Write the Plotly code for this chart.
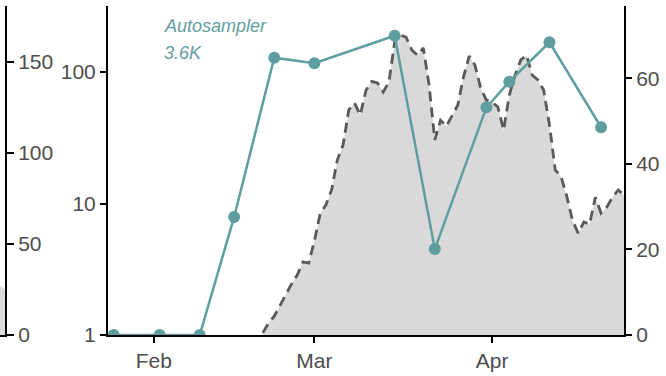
import pandas as pd
import plotly.graph_objects as go

# Autosampler weekly results (log scale, left axis)
sample_dates = ["2021-01-25", "2021-02-02", "2021-02-09", "2021-02-15", "2021-02-22",
                "2021-03-01", "2021-03-15", "2021-03-22", "2021-03-31", "2021-04-04",
                "2021-04-11", "2021-04-20"]
sample_values = [1, 1, 1, 7.9, 128.5, 116.5, 188.8, 4.5, 53.9, 84.4, 168.3, 38.0]

# Daily case curve (linear, right axis), starting 2021-02-20
case_start = "2021-02-20"
case_values = [0.5, 2.8, 4.4, 7.0, 9.6, 11.9, 14.0, 17.1, 16.8, 22.0,
               28.3, 30.4, 33.9, 40.9, 44.4, 52.6, 54.2, 51.4, 57.2, 59.3,
               58.9, 56.8, 59.1, 68.5, 70.1, 69.6, 66.6, 65.4, 67.1, 58.4,
               45.6, 50.2, 48.8, 51.4, 53.7, 60.3, 65.2, 63.1, 57.7, 54.9,
               54.4, 53.3, 47.9, 56.1, 60.7, 64.3, 65.4, 60.7, 59.6, 57.2,
               49.1, 38.6, 37.1, 32.5, 26.9, 23.8, 26.4, 25.9, 32.2, 28.5,
               29.9, 32.2, 33.9, 32.7]
case_dates = pd.date_range(case_start, periods=len(case_values), freq="D")

# Tail of the neighbouring panel on the left
prev_x = [0, 1]
prev_values = [27, 25]

month_ticks = ["2021-02-01", "2021-03-01", "2021-04-01"]
month_labels = ["Feb", "Mar", "Apr"]

TEAL = "#5F9EA0"
FILL = "#d9d9d9"
W, H = 666, 376
Y0, Y1 = 41 / H, 370 / H

fig = go.Figure()

fig.add_trace(go.Scatter(
    x=prev_x, y=prev_values, xaxis="x", yaxis="y",
    mode="lines", line=dict(width=0), fill="tozeroy", fillcolor=FILL,
    hoverinfo="skip"))

fig.add_trace(go.Scatter(
    x=case_dates, y=case_values, xaxis="x2", yaxis="y2",
    mode="lines", fill="tozeroy", fillcolor=FILL,
    line=dict(color="#595959", width=2.8, dash="10px,6px")))

fig.add_trace(go.Scatter(
    x=sample_dates, y=sample_values, xaxis="x2", yaxis="y3",
    mode="lines+markers", line=dict(color=TEAL, width=2.5),
    marker=dict(color=TEAL, size=12)))

axis_common = dict(showgrid=False, zeroline=False, showline=True,
                   linecolor="black", linewidth=2, ticks="outside",
                   tickcolor="black", tickwidth=2, fixedrange=True,
                   automargin=False)

fig.update_layout(
    width=W, height=H,
    margin=dict(l=0, r=0, t=0, b=0),
    plot_bgcolor="white", paper_bgcolor="white",
    showlegend=False,
    font=dict(family="Liberation Sans, Arial, sans-serif", size=21, color="#4d4d4d"),
    xaxis=dict(domain=[0, 5 / W], range=[0, 1], anchor="y",
               showgrid=False, zeroline=False, showline=True,
               linecolor="black", linewidth=2, showticklabels=False,
               ticks="", fixedrange=True, automargin=False),
    yaxis=dict(domain=[Y0, Y1], anchor="x", side="right", range=[0, 180.7],
               tickvals=[0, 50, 100, 150], ticklen=7, **axis_common),
    xaxis2=dict(domain=[108 / W, 624 / W], anchor="y2", type="date",
                range=["2021-01-24", "2021-04-24"],
                tickvals=month_ticks, ticktext=month_labels, ticklen=6,
                **axis_common),
    yaxis2=dict(domain=[Y0, Y1], anchor="x2", side="right", range=[0, 76.9],
                tickvals=[0, 20, 40, 60], ticklen=6, **axis_common),
    yaxis3=dict(overlaying="y2", anchor="x2", side="left", type="log",
                range=[0, 2.502], tickvals=[1, 10, 100], ticktext=["1", "10", "100"],
                ticklen=6, **axis_common),
)

fig.add_annotation(x=162 / W, y=1 - 26 / H, xref="paper", yref="paper",
                   xanchor="left", yanchor="middle", showarrow=False,
                   text="<i>Autosampler</i>", font=dict(size=18, color=TEAL))
fig.add_annotation(x=162 / W, y=1 - 53 / H, xref="paper", yref="paper",
                   xanchor="left", yanchor="middle", showarrow=False,
                   text="<i>3.6K</i>", font=dict(size=18, color=TEAL))

fig.write_html("out.html")
